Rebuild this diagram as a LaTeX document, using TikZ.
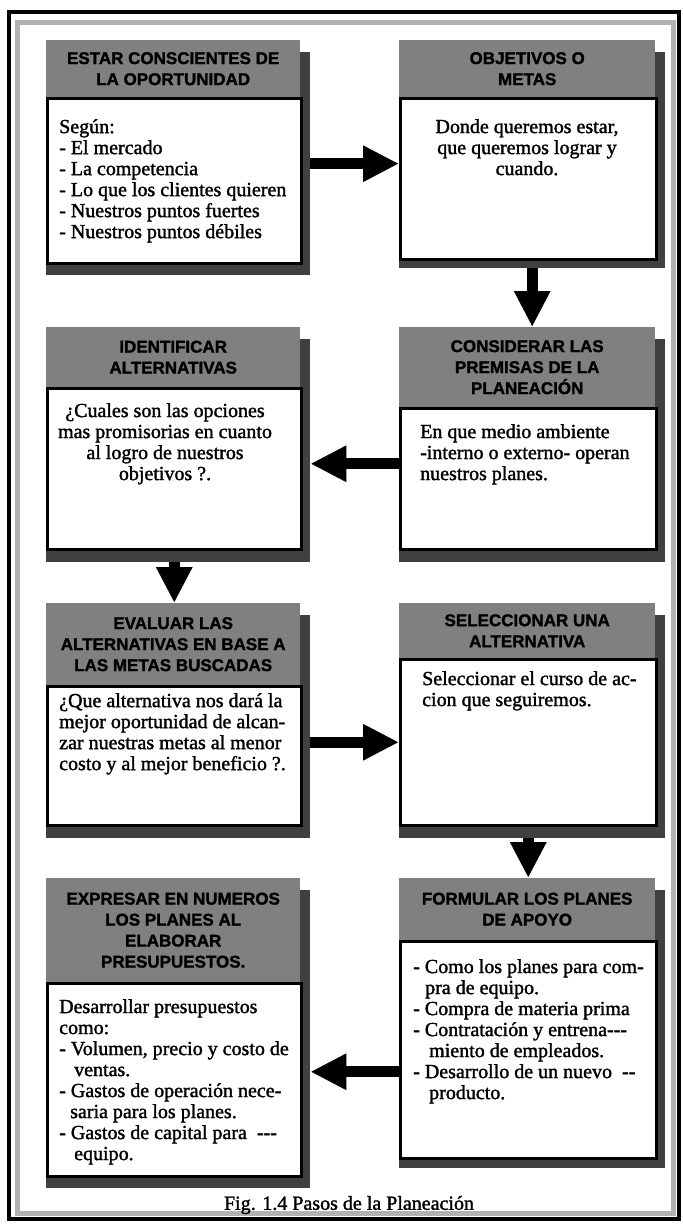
\documentclass[tikz,border=0pt]{standalone}
\usepackage{fontspec}
\setmainfont{Liberation Serif}[FakeBold=1.5]
\newfontfamily\headfont{Liberation Sans}[FakeBold=1.5]
\usetikzlibrary{arrows.meta}

\tikzset{
  hdr/.style={fill=black!50, draw=none, inner sep=0pt, anchor=north west,
    align=center, text=black, font=\headfont\bfseries\fontsize{17}{21}\selectfont},
  bodybox/.style={fill=white, draw=black, line width=2.5pt, inner sep=0pt, anchor=north west},
  shade/.style={fill=black!75, draw=none, inner sep=0pt, anchor=north west},
  txt/.style={inner sep=0pt, align=left, font=\fontsize{20}{21}\selectfont},
  ctxt/.style={inner sep=0pt, align=center, font=\fontsize{20}{21}\selectfont},
  bigarrow/.style={line width=11pt, line cap=butt, -{Triangle[length=36pt,width=34pt]}},
}

\begin{document}
\begin{tikzpicture}[x=1pt,y=-1pt]
\useasboundingbox (0,0) rectangle (683,1227);
\fill[white] (0,0) rectangle (683,1227);

% outer frame
\draw[line width=4pt] (9,12) rectangle (679,1219);
\draw[black!30, line width=5pt] (17,22) rectangle (673,1213);

% drop shadows
\node[shade, minimum width=264pt, minimum height=223pt] (s1) at (46,52) {};
\node[shade, minimum width=266pt, minimum height=216pt] (s2) at (399,52) {};
\node[shade, minimum width=264pt, minimum height=223pt] (s3) at (46,339) {};
\node[shade, minimum width=266pt, minimum height=223pt] (s4) at (399,339) {};
\node[shade, minimum width=264pt, minimum height=223pt] (s5) at (46,615) {};
\node[shade, minimum width=266pt, minimum height=223pt] (s6) at (399,615) {};
\node[shade, minimum width=264pt, minimum height=298pt] (s7) at (46,890) {};
\node[shade, minimum width=266pt, minimum height=278pt] (s8) at (399,890) {};

% header bars
\node[hdr, minimum width=254pt, minimum height=57pt] (h1) at (46,40) {ESTAR CONSCIENTES DE\\LA OPORTUNIDAD};
\node[hdr, minimum width=256pt, minimum height=57pt] (h2) at (399,40) {OBJETIVOS O\\METAS};
\node[hdr, minimum width=254pt, minimum height=60pt] (h3) at (46,327) {IDENTIFICAR\\ALTERNATIVAS};
\node[hdr, minimum width=256pt, minimum height=80pt] (h4) at (399,327) {CONSIDERAR LAS\\PREMISAS DE LA\\PLANEACIÓN};
\node[hdr, minimum width=254pt, minimum height=82pt] (h5) at (46,603) {EVALUAR LAS\\ALTERNATIVAS EN BASE A\\LAS METAS BUSCADAS};
\node[hdr, minimum width=256pt, minimum height=55pt] (h6) at (399,603) {SELECCIONAR UNA\\ALTERNATIVA};
\node[hdr, minimum width=254pt, minimum height=104pt] (h7) at (46,878) {EXPRESAR EN NUMEROS\\LOS PLANES AL\\ELABORAR\\PRESUPUESTOS.};
\node[hdr, minimum width=256pt, minimum height=62pt] (h8) at (399,878) {FORMULAR LOS PLANES\\DE APOYO};

% white bodies
\node[bodybox, minimum width=254pt, minimum height=165pt] (b1) at (46,97) {};
\node[bodybox, minimum width=256pt, minimum height=161pt] (b2) at (399,97) {};
\node[bodybox, minimum width=254pt, minimum height=161pt] (b3) at (46,387) {};
\node[bodybox, minimum width=256pt, minimum height=141pt] (b4) at (399,407) {};
\node[bodybox, minimum width=254pt, minimum height=139pt] (b5) at (46,685) {};
\node[bodybox, minimum width=256pt, minimum height=166pt] (b6) at (399,658) {};
\node[bodybox, minimum width=254pt, minimum height=193pt] (b7) at (46,982) {};
\node[bodybox, minimum width=256pt, minimum height=217pt] (b8) at (399,940) {};

% body texts
\node[txt, anchor=north west] (t1) at (59,119) {Según:\\- El mercado\\- La competencia\\- Lo que los clientes quieren\\- Nuestros puntos fuertes\\- Nuestros puntos débiles};
\node[ctxt, anchor=north] (t2) at (527,119) {Donde queremos estar,\\que queremos lograr y\\cuando.};
\node[ctxt, anchor=north] (t3) at (165,403) {¿Cuales son las opciones\\mas promisorias en cuanto\\al logro de nuestros\\objetivos ?.};
\node[txt, anchor=north west] (t4) at (420,424) {En que medio ambiente\\-interno o externo- operan\\nuestros planes.};
\node[txt, anchor=north west] (t5) at (59,693) {¿Que alternativa nos dará la\\mejor oportunidad de alcan-\\zar nuestras metas al menor\\costo y al mejor beneficio ?.};
\node[txt, anchor=north west] (t6) at (422,671) {Seleccionar el curso de ac-\\cion que seguiremos.};
\node[txt, anchor=north west] (t7) at (59,999) {Desarrollar presupuestos\\como:\\- Volumen, precio y costo de\\\hspace*{15pt}ventas.\\- Gastos de operación nece-\\\hspace*{11pt}saria para los planes.\\- Gastos de capital para \ -{}-{}-\\\hspace*{15pt}equipo.};
\node[txt, anchor=north west] (t8) at (413,959) {- Como los planes para com-\\\hspace*{12pt}pra de equipo.\\- Compra de materia prima\\- Contratación y entrena-{}-{}-\\\hspace*{16pt}miento de empleados.\\- Desarrollo de un nuevo \ -{}-\\\hspace*{16pt}producto.};

% caption
\node[inner sep=0pt, font=\fontsize{20}{22}\selectfont] (cap) at (349,1205) {Fig. 1.4 Pasos de la Planeación};

% flow arrows
\draw[bigarrow] (s1.east) -- (s1.east -| b2.west);
\draw[bigarrow] (s2.south) -- (s2.south |- h4.north);
\draw[bigarrow] ([yshift=15pt]b4.west) -- ([yshift=15pt]b4.west -| s3.east);
\draw[bigarrow] (b3.south |- s3.south) -- (b3.south |- h5.north);
\draw[bigarrow] (s5.east |- b6.west) -- (b6.west);
\draw[bigarrow] (b6.south |- s6.south) -- (b6.south |- h8.north);
\draw[bigarrow] ([yshift=-22pt]b8.west) -- ([yshift=-22pt]b8.west -| s7.east);
\end{tikzpicture}
\end{document}
